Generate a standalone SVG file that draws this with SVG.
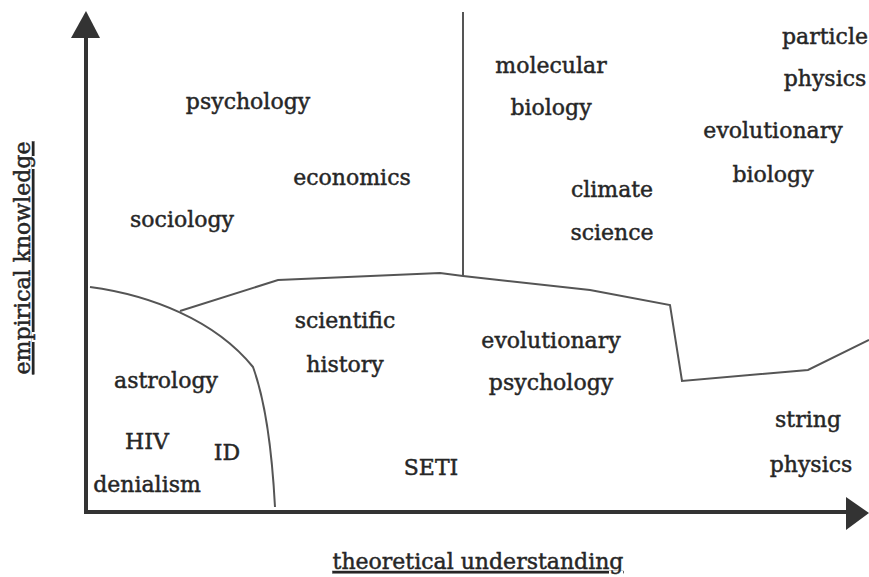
<svg xmlns="http://www.w3.org/2000/svg" width="869" height="577" viewBox="0 0 869 577">
<defs>
<style>
text{font-family:"DejaVu Serif","Liberation Serif",serif;font-size:22px;fill:#262626;stroke:#262626;stroke-width:0.45;text-anchor:middle}
.ax{stroke:#333;stroke-width:4;fill:none}
.bd{stroke:#555;stroke-width:2;fill:none}
.ah{fill:#333}
</style>
</defs>
<rect width="869" height="577" fill="#fff"/>
<g id="axes">
<line class="ax" x1="86" y1="510" x2="86" y2="32"/>
<polygon class="ah" points="86,11 100,38 71,38"/>
<line class="ax" x1="84" y1="512" x2="850" y2="512"/>
<polygon class="ah" points="869,513 846,497 846,530"/>
</g>
<g id="connectors">
<path class="bd" d="M90,287 C150,295 215,320 253,367 C265,400 272,450 275,507"/>
<polyline class="bd" points="180,311 278,280 440,273 463,276 590,290 670,305 682,381 808,370 869,340"/>
<line class="bd" x1="463" y1="12" x2="463" y2="276"/>
</g>
<g id="psychology"><text x="248" y="109">psychology</text></g>
<g id="economics"><text x="352" y="185">economics</text></g>
<g id="sociology"><text x="182" y="227">sociology</text></g>
<g id="molecular-biology"><text x="551" y="73">molecular</text><text x="551" y="115">biology</text></g>
<g id="particle-physics"><text x="825" y="44">particle</text><text x="825" y="86">physics</text></g>
<g id="evolutionary-biology"><text x="773" y="138">evolutionary</text><text x="773" y="182">biology</text></g>
<g id="climate-science"><text x="612" y="197">climate</text><text x="612" y="240">science</text></g>
<g id="scientific-history"><text x="345" y="328">scientific</text><text x="345" y="372">history</text></g>
<g id="evolutionary-psychology"><text x="551" y="348">evolutionary</text><text x="551" y="390">psychology</text></g>
<g id="astrology"><text x="166" y="388">astrology</text></g>
<g id="hiv-denialism"><text x="147" y="449">HIV</text><text x="147" y="492">denialism</text></g>
<g id="id"><text x="227" y="460">ID</text></g>
<g id="seti"><text x="431" y="475">SETI</text></g>
<g id="string-physics"><text x="808" y="427">string</text><text x="811" y="472">physics</text></g>
<g id="x-label"><text x="478" y="569" text-decoration="underline">theoretical understanding</text></g>
<g id="y-label"><text transform="translate(30,258) rotate(-90)" text-decoration="underline">empirical knowledge</text></g>
</svg>
